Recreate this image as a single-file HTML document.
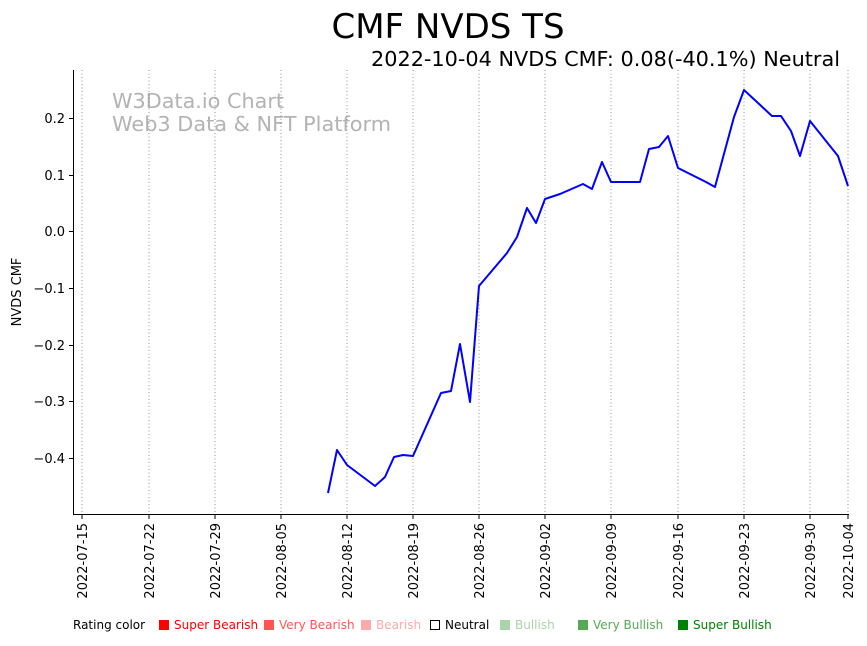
<!DOCTYPE html>
<html><head><meta charset="utf-8"><style>
body{margin:0;background:#fff;font-family:"Liberation Sans","DejaVu Sans",sans-serif;}
</style></head><body>
<svg width="867" height="641" xmlns="http://www.w3.org/2000/svg" font-family="DejaVu Sans, Liberation Sans, sans-serif">
<rect width="867" height="641" fill="#fff"/>
<text x="448" y="38" font-size="34" text-anchor="middle">CMF NVDS TS</text>
<text x="371" y="66" font-size="20" textLength="469" lengthAdjust="spacingAndGlyphs">2022-10-04 NVDS CMF: 0.08(-40.1%) Neutral</text>
<text x="112" y="108" font-size="20" fill="#b3b3b3" textLength="172" lengthAdjust="spacingAndGlyphs">W3Data.io Chart</text>
<text x="112" y="131" font-size="20" fill="#b3b3b3" textLength="279" lengthAdjust="spacingAndGlyphs">Web3 Data &amp; NFT Platform</text>
<g stroke="#777" stroke-width="0.8" stroke-dasharray="1,2.5">
<line x1="82" y1="70" x2="82" y2="514"/><line x1="149" y1="70" x2="149" y2="514"/><line x1="215" y1="70" x2="215" y2="514"/><line x1="281" y1="70" x2="281" y2="514"/><line x1="347" y1="70" x2="347" y2="514"/><line x1="413" y1="70" x2="413" y2="514"/><line x1="479" y1="70" x2="479" y2="514"/><line x1="545" y1="70" x2="545" y2="514"/><line x1="611" y1="70" x2="611" y2="514"/><line x1="678" y1="70" x2="678" y2="514"/><line x1="744" y1="70" x2="744" y2="514"/><line x1="810" y1="70" x2="810" y2="514"/><line x1="848" y1="70" x2="848" y2="514"/>
</g>
<g stroke="#000" stroke-width="1">
<line x1="73.5" y1="70" x2="73.5" y2="515"/><line x1="73" y1="514.5" x2="849" y2="514.5"/>
<line x1="69" y1="118.5" x2="73" y2="118.5"/><line x1="69" y1="175.5" x2="73" y2="175.5"/><line x1="69" y1="231.5" x2="73" y2="231.5"/><line x1="69" y1="288.5" x2="73" y2="288.5"/><line x1="69" y1="345.5" x2="73" y2="345.5"/><line x1="69" y1="401.5" x2="73" y2="401.5"/><line x1="69" y1="458.5" x2="73" y2="458.5"/>
<line x1="82" y1="515" x2="82" y2="519"/><line x1="149" y1="515" x2="149" y2="519"/><line x1="215" y1="515" x2="215" y2="519"/><line x1="281" y1="515" x2="281" y2="519"/><line x1="347" y1="515" x2="347" y2="519"/><line x1="413" y1="515" x2="413" y2="519"/><line x1="479" y1="515" x2="479" y2="519"/><line x1="545" y1="515" x2="545" y2="519"/><line x1="611" y1="515" x2="611" y2="519"/><line x1="678" y1="515" x2="678" y2="519"/><line x1="744" y1="515" x2="744" y2="519"/><line x1="810" y1="515" x2="810" y2="519"/><line x1="848" y1="515" x2="848" y2="519"/>
</g>
<g font-size="13" text-anchor="end">
<text x="65" y="123">0.2</text><text x="65" y="180">0.1</text><text x="65" y="236">0.0</text><text x="65" y="293">−0.1</text><text x="65" y="350">−0.2</text><text x="65" y="406">−0.3</text><text x="65" y="463">−0.4</text>
</g>
<text transform="translate(21,292) rotate(-90)" font-size="13" text-anchor="middle">NVDS CMF</text>
<g font-size="13" text-anchor="end">
<text transform="translate(87,523) rotate(-90)">2022-07-15</text>
<text transform="translate(154,523) rotate(-90)">2022-07-22</text>
<text transform="translate(220,523) rotate(-90)">2022-07-29</text>
<text transform="translate(286,523) rotate(-90)">2022-08-05</text>
<text transform="translate(352,523) rotate(-90)">2022-08-12</text>
<text transform="translate(418,523) rotate(-90)">2022-08-19</text>
<text transform="translate(484,523) rotate(-90)">2022-08-26</text>
<text transform="translate(550,523) rotate(-90)">2022-09-02</text>
<text transform="translate(616,523) rotate(-90)">2022-09-09</text>
<text transform="translate(683,523) rotate(-90)">2022-09-16</text>
<text transform="translate(749,523) rotate(-90)">2022-09-23</text>
<text transform="translate(815,523) rotate(-90)">2022-09-30</text>
<text transform="translate(853,523) rotate(-90)">2022-10-04</text>
</g>
<polyline fill="none" stroke="#0000ff" stroke-width="2" stroke-linejoin="round" points="328,493 337,450 347,465 375,486 385,477 394,457 403,455 413,456 441,393 451,391 460,344 470,402 479,286 507,253 517,237 527,208 536,223 545,199 560,194 583,184 592,189 602,162 611,182 640,182 649,149 659,147 668,136 678,168 706,182 715,187 734,117 744,90 772,116 781,116 791,131 800,156 810,121 838,156 848,186"/>
<g font-size="12">
<text x="73" y="629">Rating color</text>
<rect x="159" y="620" width="10" height="10" fill="#ff0000"/><text x="174" y="629" fill="#ff0000">Super Bearish</text>
<rect x="264" y="620" width="10" height="10" fill="#ff5555"/><text x="279" y="629" fill="#ff5555">Very Bearish</text>
<rect x="361" y="620" width="10" height="10" fill="#ffaaaa"/><text x="376" y="629" fill="#ffaaaa">Bearish</text>
<rect x="430.5" y="620.5" width="9" height="9" fill="#fff" stroke="#000"/><text x="445" y="629">Neutral</text>
<rect x="500" y="620" width="10" height="10" fill="#aad4aa"/><text x="515" y="629" fill="#aad4aa">Bullish</text>
<rect x="578" y="620" width="10" height="10" fill="#55aa55"/><text x="593" y="629" fill="#55aa55">Very Bullish</text>
<rect x="678" y="620" width="10" height="10" fill="#008000"/><text x="693" y="629" fill="#008000">Super Bullish</text>
</g>
</svg>
</body></html>
